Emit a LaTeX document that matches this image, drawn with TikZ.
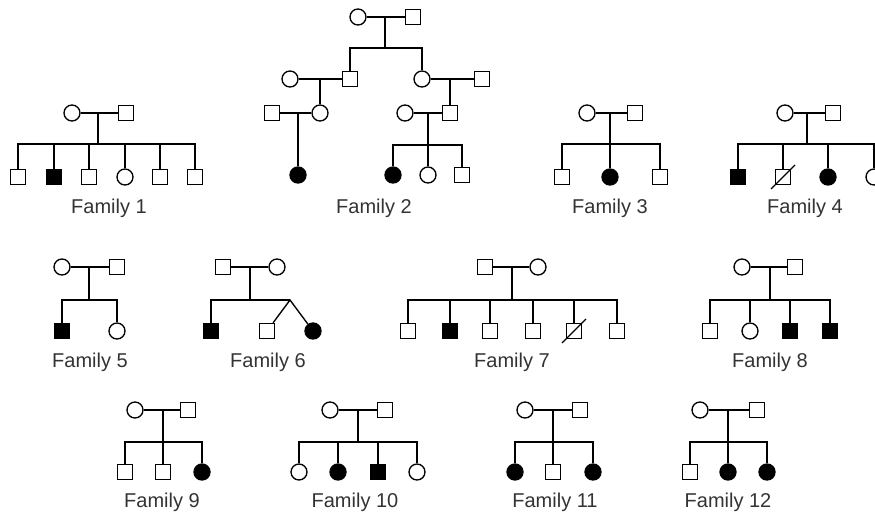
\documentclass[tikz,border=0pt]{standalone}
\usepackage{fontspec}
\setmainfont{Liberation Sans}
\usetikzlibrary{calc}
\tikzset{
male/.style={draw,rectangle,minimum size=15pt,inner sep=0pt},
female/.style={draw,circle,minimum size=16pt,inner sep=0pt},
aff/.style={fill=black},
famlabel/.style={font=\fontsize{20}{24}\selectfont,text=black!80,inner sep=0pt},
link/.style={line width=1.2pt}
}

\begin{document}
\begin{tikzpicture}[x=1pt,y=-1pt,line width=1.35pt]
\useasboundingbox (0,0) rectangle (875,517);
\clip (0,0) rectangle (875,517);
% Family 1
\node[female](p1a) at (72,113){};\node[male](p1b) at (126,113){};
\coordinate (j1) at (98,113);\coordinate (s1) at (98,144);
\node[male](k1a) at (18,177){};\node[male,aff](k1b) at (54,177){};\node[male](k1c) at (89,177){};
\node[female](k1d) at (125,177){};\node[male](k1e) at (160,177){};\node[male](k1f) at (195,177){};
\draw(p1a)--(p1b);\draw(j1)--(s1);\draw(k1a)|-(s1)-|(k1f);
\foreach \k in {b,c,d,e}{\draw(k1\k)--(k1\k|-s1);}
\node[famlabel](l1) at (109,208){Family 1};
% Family 2
\node[female](p2a) at (358,17){};\node[male](p2b) at (413,17){};
\coordinate (j2) at (385,17);\coordinate (s2) at (385,48);
\node[female](q2a) at (290,79){};\node[male](q2b) at (350,79){};
\node[female](q2c) at (422,79){};\node[male](q2d) at (482,79){};
\coordinate (j2l) at (320,79);\coordinate (j2r) at (450,79);
\node[male](r2a) at (272,113){};\node[female](r2b) at (320,113){};
\node[female](r2c) at (405,113){};\node[male](r2d) at (450,113){};
\coordinate (j2m) at (298,113);\coordinate (j2n) at (428,113);\coordinate (s2n) at (428,145);
\node[female,aff](k2a) at (298,175){};
\node[female,aff](k2b) at (393,175){};\node[female](k2c) at (428,175){};\node[male](k2d) at (462,175){};
\draw(p2a)--(p2b);\draw(j2)--(s2);\draw(q2b)|-(s2)-|(q2c);
\draw(q2a)--(q2b);\draw(q2c)--(q2d);\draw(j2l)--(r2b);\draw(j2r)--(r2d);
\draw(r2a)--(r2b);\draw(r2c)--(r2d);\draw(j2m)--(k2a);
\draw(j2n)--(k2c);\draw(k2b)|-(s2n)-|(k2d);
\node[famlabel](l2) at (374,208){Family 2};
% Family 3
\node[female](p3a) at (587,113){};\node[male](p3b) at (635,113){};
\coordinate (j3) at (610,113);\coordinate (s3) at (610,144);
\node[male](k3a) at (562,177){};\node[female,aff](k3b) at (610,177){};\node[male](k3c) at (660,177){};
\draw(p3a)--(p3b);\draw(j3)--(k3b);\draw(k3a)|-(s3)-|(k3c);
\node[famlabel](l3) at (610,208){Family 3};
% Family 4
\node[female](p4a) at (785,113){};\node[male](p4b) at (833,113){};
\coordinate (j4) at (807,113);\coordinate (s4) at (807,144);
\node[male,aff](k4a) at (738,177){};\node[male](k4b) at (783,177){};
\node[female,aff](k4c) at (828,177){};\node[female](k4d) at (874,177){};
\draw(p4a)--(p4b);\draw(j4)--(s4);\draw(k4a)|-(s4)-|(k4d);
\foreach \k in {b,c}{\draw(k4\k)--(k4\k|-s4);}
\draw($(k4b)+(-12,12)$)--($(k4b)+(12,-12)$);
\node[famlabel](l4) at (805,208){Family 4};
% Family 5
\node[female](p5a) at (62,267){};\node[male](p5b) at (117,267){};
\coordinate (j5) at (89,267);\coordinate (s5) at (89,300);
\node[male,aff](k5a) at (62,331){};\node[female](k5b) at (117,331){};
\draw(p5a)--(p5b);\draw(j5)--(s5);\draw(k5a)|-(s5)-|(k5b);
\node[famlabel](l5) at (90,362){Family 5};
% Family 6
\node[male](p6a) at (223,267){};\node[female](p6b) at (277,267){};
\coordinate (j6) at (250,267);\coordinate (s6) at (250,300);\coordinate (t6) at (290,300);
\node[male,aff](k6a) at (211,331){};\node[male](k6b) at (267,331){};\node[female,aff](k6c) at (313,331){};
\draw(p6a)--(p6b);\draw(j6)--(s6);\draw(k6a)|-(t6);\draw(k6b)--(t6)--(k6c);
\node[famlabel](l6) at (268,362){Family 6};
% Family 7
\node[male](p7a) at (485,267){};\node[female](p7b) at (538,267){};
\coordinate (j7) at (512,267);\coordinate (s7) at (512,300);
\node[male](k7a) at (408,331){};\node[male,aff](k7b) at (450,331){};\node[male](k7c) at (490,331){};
\node[male](k7d) at (533,331){};\node[male](k7e) at (574,331){};\node[male](k7f) at (617,331){};
\draw(p7a)--(p7b);\draw(j7)--(s7);\draw(k7a)|-(s7)-|(k7f);
\foreach \k in {b,c,d,e}{\draw(k7\k)--(k7\k|-s7);}
\draw($(k7e)+(-12,12)$)--($(k7e)+(12,-12)$);
\node[famlabel](l7) at (512,362){Family 7};
% Family 8
\node[female](p8a) at (742,267){};\node[male](p8b) at (795,267){};
\coordinate (j8) at (770,267);\coordinate (s8) at (770,300);
\node[male](k8a) at (710,331){};\node[female](k8b) at (750,331){};
\node[male,aff](k8c) at (790,331){};\node[male,aff](k8d) at (830,331){};
\draw(p8a)--(p8b);\draw(j8)--(s8);\draw(k8a)|-(s8)-|(k8d);
\foreach \k in {b,c}{\draw(k8\k)--(k8\k|-s8);}
\node[famlabel](l8) at (770,362){Family 8};
% Family 9
\node[female](p9a) at (135,410){};\node[male](p9b) at (188,410){};
\coordinate (j9) at (163,410);\coordinate (s9) at (163,442);
\node[male](k9a) at (125,472){};\node[male](k9b) at (163,472){};\node[female,aff](k9c) at (202,472){};
\draw(p9a)--(p9b);\draw(j9)--(k9b);\draw(k9a)|-(s9)-|(k9c);
\node[famlabel](l9) at (162,502){Family 9};
% Family 10
\node[female](p10a) at (330,410){};\node[male](p10b) at (385,410){};
\coordinate (j10) at (358,410);\coordinate (s10) at (358,442);
\node[female](k10a) at (299,472){};\node[female,aff](k10b) at (338,472){};
\node[male,aff](k10c) at (378,472){};\node[female](k10d) at (417,472){};
\draw(p10a)--(p10b);\draw(j10)--(s10);\draw(k10a)|-(s10)-|(k10d);
\foreach \k in {b,c}{\draw(k10\k)--(k10\k|-s10);}
\node[famlabel](l10) at (355,502){Family 10};
% Family 11
\node[female](p11a) at (525,410){};\node[male](p11b) at (580,410){};
\coordinate (j11) at (553,410);\coordinate (s11) at (553,442);
\node[female,aff](k11a) at (515,472){};\node[male](k11b) at (553,472){};\node[female,aff](k11c) at (593,472){};
\draw(p11a)--(p11b);\draw(j11)--(k11b);\draw(k11a)|-(s11)-|(k11c);
\node[famlabel](l11) at (555,502){Family 11};
% Family 12
\node[female](p12a) at (700,410){};\node[male](p12b) at (757,410){};
\coordinate (j12) at (728,410);\coordinate (s12) at (728,442);
\node[male](k12a) at (690,472){};\node[female,aff](k12b) at (728,472){};\node[female,aff](k12c) at (767,472){};
\draw(p12a)--(p12b);\draw(j12)--(k12b);\draw(k12a)|-(s12)-|(k12c);
\node[famlabel](l12) at (728,502){Family 12};
\end{tikzpicture}
\end{document}
